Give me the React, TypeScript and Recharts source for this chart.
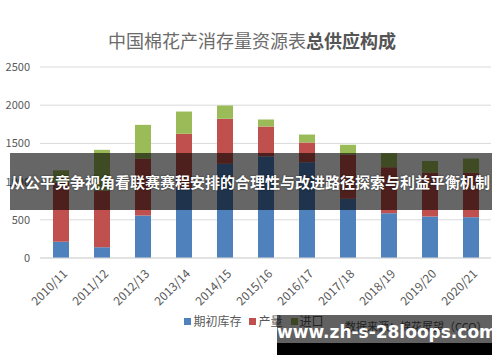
import React from 'react';
import { BarChart, Bar, XAxis, YAxis, CartesianGrid } from 'recharts';

const categories = ['2010/11', '2011/12', '2012/13', '2013/14', '2014/15', '2015/16', '2016/17', '2017/18', '2018/19', '2019/20', '2020/21'];
const openingStock = [213, 141, 556, 910, 1233, 1330, 1254, 775, 586, 543, 534];
const production = [773, 742, 742, 716, 589, 391, 258, 580, 602, 576, 585];
const imports = [162, 533, 445, 291, 174, 92, 104, 127, 184, 151, 183];
const yTicks = [0, 500, 1000, 1500, 2000, 2500];

const seriesNames = ['期初库存', '产量', '进口'];
const seriesKeys = ['stock', 'prod', 'imp'];
const seriesColors = ['#4f81bd', '#c0504d', '#9bbb59'];

const titleRegular = '中国棉花产消存量资源表';
const titleBold = '总供应构成';
const bannerText = '从公平竞争视角看联赛赛程安排的合理性与改进路径探索与利益平衡机制';
const sourceText = '数据来源：棉花展望（CCO）';
const siteText = 'www.zh-s-28loops.com';

const data = categories.map((c, i) => ({
  name: c,
  stock: openingStock[i],
  prod: production[i],
  imp: imports[i],
}));

const FONT = '"Noto Sans CJK SC", "Noto Sans", sans-serif';

const XTick = (props: any) => {
  const { x, y, payload } = props;
  return (
    <g transform={`translate(${x + 2},${y + 3})`}>
      <text x={0} y={0} dy={8} textAnchor="end" transform="rotate(-45)" fill="#595959" fontSize={12} fontFamily={FONT}>
        {payload.value}
      </text>
    </g>
  );
};

export default function App() {
  return (
    <div style={{ position: 'absolute', left: 0, top: 0, width: 500, height: 362, background: '#fff', overflow: 'hidden', fontFamily: FONT }}>
      <div style={{ position: 'absolute', left: 2, top: 28, width: 500, textAlign: 'center', fontSize: 18, color: '#6b6b6b', lineHeight: '24px', whiteSpace: 'nowrap' }}>
        {titleRegular}
        <span style={{ fontWeight: 'bold', color: '#555' }}>{titleBold}</span>
      </div>
      <BarChart width={500} height={362} data={data} margin={{ top: 67, right: 9, left: 0, bottom: 54 }} barSize={16}>
        <CartesianGrid vertical={false} stroke="#d9d9d9" />
        <XAxis dataKey="name" height={50} interval={0} tick={<XTick />} tickLine={false} axisLine={{ stroke: '#d9d9d9' }} />
        <YAxis width={40} domain={[0, 2500]} ticks={yTicks} tickLine={false} axisLine={false} tickMargin={4}
          tick={{ fill: '#595959', fontSize: 11, fontFamily: FONT }} />
        {seriesKeys.map((k, i) => (
          <Bar key={k} dataKey={k} name={seriesNames[i]} stackId="a" fill={seriesColors[i]} isAnimationActive={false} />
        ))}
      </BarChart>
      <div style={{ position: 'absolute', left: 4, top: 313, width: 500, display: 'flex', justifyContent: 'center', gap: 8, fontSize: 12, color: '#595959', lineHeight: '16px' }}>
        {seriesNames.map((n, i) => (
          <span key={n} style={{ display: 'flex', alignItems: 'center' }}>
            <span style={{ display: 'inline-block', width: 7, height: 7, background: seriesColors[i], marginRight: 2 }} />
            {n}
          </span>
        ))}
      </div>
      <div style={{ position: 'absolute', left: 10, top: 153, width: 482, height: 57, background: 'rgba(0,0,0,0.6)' }} />
      <div style={{ position: 'absolute', left: 0, top: 171, width: 500, textAlign: 'center', color: '#fff', fontWeight: 'bold', fontSize: 15, lineHeight: '22px', whiteSpace: 'nowrap', textShadow: '0 0 2px rgba(0,0,0,0.6)' }}>
        {bannerText}
      </div>
      <div style={{ position: 'absolute', left: 345, top: 318, fontSize: 11, color: '#595959', whiteSpace: 'nowrap' }}>{sourceText}</div>
      <div style={{ position: 'absolute', left: 277, top: 315, width: 215, height: 28, background: 'rgba(0,0,0,0.62)' }} />
      <div style={{ position: 'absolute', left: 277, top: 343, width: 215, height: 12, background: '#000' }} />
      <div style={{ position: 'absolute', left: 277, top: 322, width: 215, textAlign: 'center', color: '#fff', fontWeight: 'bold', fontSize: 17, fontFamily: '"DejaVu Sans", sans-serif', lineHeight: '20px', whiteSpace: 'nowrap' }}>
        {siteText}
      </div>
    </div>
  );
}
